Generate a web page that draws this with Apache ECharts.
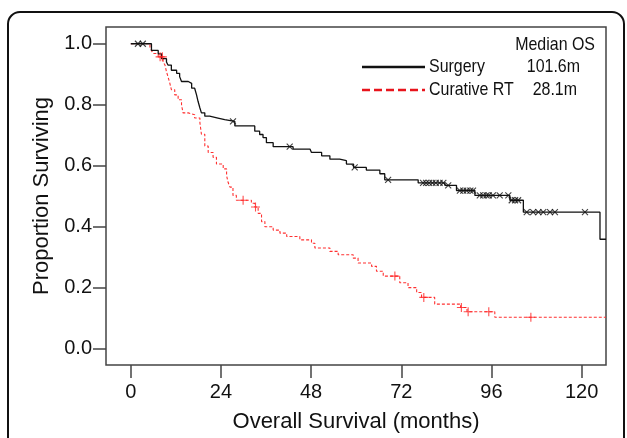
<!DOCTYPE html>
<html>
<head>
<meta charset="utf-8">
<script src="https://cdn.jsdelivr.net/npm/echarts@6/dist/echarts.min.js"></script>
<style>
  html, body { margin: 0; padding: 0; background: #fff; }
  #km { width: 627px; height: 438px; }
</style>
</head>
<body>
<div id="km"></div>
<script>
// Kaplan-Meier steps (months, proportion surviving)
var surgeryTime = [0, 5.5, 7.3, 8.2, 9.5, 9.9, 10.8, 12.2, 13.0, 13.5, 15.3, 16.2, 17.0, 17.5, 17.9,
  18.4, 18.8, 19.7, 21.0, 23.2, 25.0, 27.7, 33.0, 34.3, 35.2, 36.1, 37.9, 43.2, 47.7, 48.1,
  50.8, 53.0, 55.6, 57.4, 59.3, 62.7, 66.3, 67.6, 76.5, 83.6, 86.7, 91.6, 100.9, 104.5, 124.9, 126.5];
var surgerySurv = [1.0, 0.978, 0.967, 0.951, 0.940, 0.930, 0.913, 0.903, 0.892, 0.876, 0.870, 0.854, 0.849, 0.832, 0.811,
  0.789, 0.773, 0.762, 0.756, 0.751, 0.745, 0.730, 0.713, 0.702, 0.692, 0.675, 0.662, 0.654, 0.648, 0.643,
  0.632, 0.621, 0.616, 0.605, 0.594, 0.585, 0.573, 0.553, 0.543, 0.535, 0.518, 0.502, 0.486, 0.447, 0.358, 0.358];
var surgeryCensor = [1.9, 3.2, 27.2, 42.3, 59.6, 68.5, 77.8, 78.6, 79.4, 80.3, 81.2, 82.2, 83.2, 84.5,
  87.6, 88.5, 89.4, 90.4, 91.1, 92.9, 93.8, 94.7, 95.3, 96.4, 98.2, 100.5, 101.4, 102.3, 103.1,
  105.4, 107.1, 108.5, 109.8, 111.6, 112.9, 120.9];

var rtTime = [0, 5.1, 5.5, 5.9, 7.3, 8.6, 9.1, 9.5, 9.9, 10.4, 10.8, 11.7, 12.6, 13.5, 13.9,
  15.3, 17.0, 18.4, 18.8, 19.7, 20.6, 21.9, 22.8, 24.6, 25.5, 25.9, 26.4, 27.2, 28.1, 32.1,
  33.0, 33.9, 34.8, 35.7, 37.9, 39.7, 41.5, 45.0, 48.1, 49.0, 53.0, 55.2, 59.2, 60.5, 64.1,
  65.4, 67.2, 71.6, 73.8, 76.1, 77.4, 80.9, 87.8, 89.5, 96.9, 126.5];
var rtSurv = [1.0, 0.989, 0.978, 0.968, 0.957, 0.940, 0.930, 0.908, 0.892, 0.870, 0.849, 0.832, 0.816, 0.800, 0.773,
  0.767, 0.756, 0.740, 0.703, 0.664, 0.643, 0.627, 0.605, 0.589, 0.567, 0.545, 0.529, 0.502, 0.486, 0.476,
  0.464, 0.443, 0.416, 0.399, 0.388, 0.378, 0.367, 0.356, 0.345, 0.329, 0.318, 0.307, 0.296, 0.280, 0.269,
  0.253, 0.237, 0.215, 0.199, 0.183, 0.167, 0.145, 0.134, 0.120, 0.102, 0.102];
var rtCensor = [7.8, 8.4, 29.9, 33.2, 70.3, 78.0, 88.0, 89.8, 95.3, 106.5];

var xTicks = [0, 24, 48, 72, 96, 120];
var yTicks = [0, 0.2, 0.4, 0.6, 0.8, 1.0];
var groups = ["Surgery", "Curative RT"];
var medians = ["101.6m", "28.1m"];

function pairs(t, s) {
  return t.map(function (v, i) { return [v, s[i]]; });
}
// survival value at a censor time
function stepAt(t, s, x) {
  var v = s[0];
  for (var i = 0; i < t.length; i++) { if (t[i] <= x) v = s[i]; }
  return v;
}
function censorPts(c, t, s) {
  return c.map(function (x) { return [x, stepAt(t, s, x)]; });
}

var font = "Liberation Sans, Arial, sans-serif";
var chart = echarts.init(document.getElementById("km"));

// legend text is condensed in the original, squeeze it horizontally
function legText(str, x, y, align) {
  return {
    type: "text", x: x, y: y, scaleX: 0.84,
    style: { text: str, fill: "#111", font: "19px " + font, textAlign: align, textVerticalAlign: "middle" }
  };
}

var option = {
  animation: false,
  backgroundColor: "#fff",
  grid: {
    show: true,
    left: 106, right: 21, top: 27, bottom: 68,
    borderColor: "#444", borderWidth: 1.5,
    backgroundColor: "transparent"
  },
  xAxis: {
    type: "value",
    min: -6.6, max: 126.5,
    name: "Overall Survival (months)",
    nameLocation: "middle",
    nameGap: 46,
    nameTextStyle: { fontFamily: font, fontSize: 22, color: "#111" },
    axisLine: { show: false, onZero: false },
    splitLine: { show: false },
    axisTick: { show: true, customValues: xTicks, length: 13, lineStyle: { color: "#444", width: 1.5 } },
    axisLabel: { customValues: xTicks, margin: 17, fontFamily: font, fontSize: 20, color: "#111" }
  },
  yAxis: {
    type: "value",
    min: -0.055, max: 1.055,
    name: "Proportion Surviving",
    nameLocation: "middle",
    nameGap: 48,
    nameTextStyle: { fontFamily: font, fontSize: 22, color: "#111" },
    axisLine: { show: false, onZero: false },
    splitLine: { show: false },
    axisTick: { show: true, customValues: yTicks, length: 13, lineStyle: { color: "#444", width: 1.5 } },
    axisLabel: {
      customValues: yTicks, margin: 14, fontFamily: font, fontSize: 20, color: "#111",
      formatter: function (v) { return v.toFixed(1); }
    }
  },
  series: [
    {
      name: groups[0],
      type: "line",
      step: "end",
      symbol: "none",
      data: pairs(surgeryTime, surgerySurv),
      lineStyle: { color: "#111", width: 1.3 },
      z: 3
    },
    {
      name: groups[1],
      type: "line",
      step: "end",
      symbol: "none",
      data: pairs(rtTime, rtSurv),
      lineStyle: { color: "#ff3030", width: 1.1, type: [3, 2] },
      z: 2
    },
    {
      type: "scatter",
      data: censorPts(surgeryCensor, surgeryTime, surgerySurv),
      symbol: "path://M0,0L10,10M10,0L0,10",
      symbolSize: [6, 6],
      itemStyle: { color: "transparent", borderColor: "#111", borderWidth: 1.1 },
      z: 4
    },
    {
      type: "scatter",
      data: censorPts(rtCensor, rtTime, rtSurv),
      symbol: "path://M5,0L5,10M0,5L10,5",
      symbolSize: [9, 9],
      itemStyle: { color: "transparent", borderColor: "#ff2020", borderWidth: 1.1 },
      z: 4
    }
  ],
  graphic: [
    {
      type: "rect", z: -1, silent: true,
      shape: { x: 8, y: 12, width: 616, height: 470, r: 12 },
      style: { fill: "none", stroke: "#111", lineWidth: 2 }
    },
    legText("Median OS", 595, 45, "right"),
    {
      type: "line", shape: { x1: 362, y1: 67, x2: 425, y2: 67 },
      style: { stroke: "#111", lineWidth: 2.5 }
    },
    legText(groups[0], 429, 67, "left"),
    legText(medians[0], 580, 67, "right"),
    {
      type: "line", shape: { x1: 362, y1: 90, x2: 425, y2: 90 },
      style: { stroke: "#e8141c", lineWidth: 2.5, lineDash: [8, 4] }
    },
    legText(groups[1], 429, 90, "left"),
    legText(medians[1], 577, 90, "right")
  ]
};
chart.setOption(option);
</script>
</body>
</html>
